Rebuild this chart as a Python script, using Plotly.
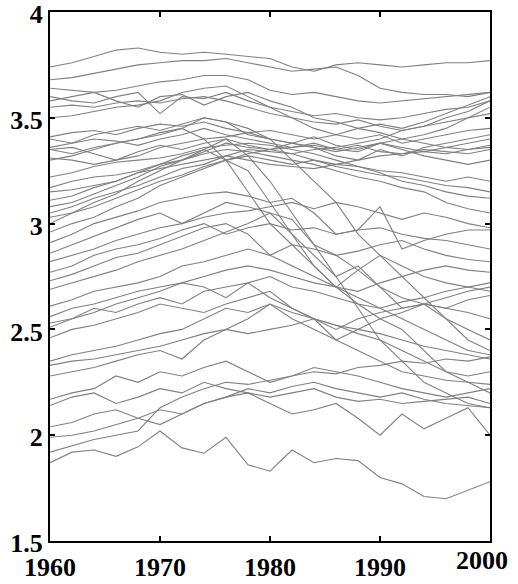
import plotly.graph_objects as go

years = list(range(1960, 2001, 2))

s01 = [3.74, 3.76, 3.79, 3.82, 3.83, 3.81, 3.80, 3.81, 3.80, 3.79, 3.78, 3.74, 3.72, 3.75, 3.76, 3.75, 3.74, 3.75, 3.76, 3.76, 3.77]
s02 = [3.68, 3.69, 3.71, 3.73, 3.75, 3.76, 3.77, 3.77, 3.78, 3.76, 3.74, 3.72, 3.73, 3.74, 3.70, 3.64, 3.62, 3.61, 3.61, 3.60, 3.62]
s03 = [3.64, 3.63, 3.62, 3.63, 3.65, 3.67, 3.68, 3.70, 3.70, 3.68, 3.63, 3.61, 3.62, 3.60, 3.58, 3.57, 3.58, 3.59, 3.60, 3.61, 3.62]
s04 = [3.60, 3.58, 3.57, 3.60, 3.62, 3.52, 3.60, 3.59, 3.62, 3.58, 3.55, 3.53, 3.51, 3.52, 3.50, 3.49, 3.50, 3.52, 3.54, 3.55, 3.58]
s05 = [3.58, 3.60, 3.62, 3.58, 3.55, 3.60, 3.61, 3.56, 3.60, 3.62, 3.58, 3.55, 3.50, 3.48, 3.45, 3.47, 3.45, 3.48, 3.52, 3.56, 3.60]
s06 = [3.55, 3.56, 3.55, 3.57, 3.58, 3.57, 3.59, 3.60, 3.58, 3.55, 3.52, 3.50, 3.48, 3.47, 3.49, 3.46, 3.44, 3.46, 3.48, 3.50, 3.52]
s07 = [3.50, 3.51, 3.53, 3.55, 3.56, 3.58, 3.62, 3.64, 3.65, 3.60, 3.55, 3.50, 3.45, 3.42, 3.40, 3.42, 3.38, 3.40, 3.42, 3.44, 3.45]
s08 = [3.41, 3.43, 3.44, 3.42, 3.45, 3.47, 3.46, 3.48, 3.45, 3.43, 3.44, 3.42, 3.40, 3.42, 3.45, 3.43, 3.40, 3.38, 3.36, 3.35, 3.37]
s09 = [3.40, 3.38, 3.42, 3.44, 3.46, 3.44, 3.47, 3.50, 3.48, 3.42, 3.40, 3.38, 3.41, 3.37, 3.35, 3.38, 3.36, 3.34, 3.33, 3.35, 3.36]
s10 = [3.36, 3.38, 3.40, 3.39, 3.37, 3.40, 3.42, 3.45, 3.42, 3.40, 3.38, 3.36, 3.38, 3.35, 3.37, 3.34, 3.33, 3.35, 3.34, 3.33, 3.35]
s11 = [3.35, 3.36, 3.33, 3.30, 3.32, 3.36, 3.38, 3.40, 3.41, 3.43, 3.40, 3.38, 3.36, 3.34, 3.36, 3.38, 3.35, 3.32, 3.30, 3.28, 3.30]
s12 = [3.31, 3.30, 3.28, 3.30, 3.34, 3.37, 3.35, 3.38, 3.40, 3.37, 3.35, 3.33, 3.30, 3.28, 3.27, 3.25, 3.24, 3.22, 3.20, 3.22, 3.20]
s13 = [3.22, 3.24, 3.27, 3.29, 3.30, 3.31, 3.33, 3.36, 3.37, 3.38, 3.37, 3.35, 3.33, 3.30, 3.27, 3.24, 3.20, 3.18, 3.15, 3.13, 3.12]
s14 = [3.17, 3.20, 3.22, 3.23, 3.25, 3.28, 3.30, 3.33, 3.35, 3.34, 3.32, 3.30, 3.28, 3.25, 3.22, 3.20, 3.17, 3.15, 3.10, 3.07, 3.05]
s15 = [3.15, 3.16, 3.18, 3.20, 3.24, 3.26, 3.28, 3.30, 3.32, 3.30, 3.28, 3.27, 3.26, 3.28, 3.30, 3.32, 3.33, 3.34, 3.36, 3.38, 3.40]
s16 = [3.11, 3.13, 3.17, 3.20, 3.24, 3.28, 3.32, 3.35, 3.30, 3.25, 3.10, 2.95, 2.80, 2.70, 2.65, 2.60, 2.55, 2.50, 2.45, 2.40, 2.38]
s17 = [3.08, 3.10, 3.14, 3.18, 3.22, 3.27, 3.30, 3.34, 3.38, 3.36, 3.35, 3.36, 3.37, 3.35, 3.34, 3.38, 3.40, 3.42, 3.45, 3.50, 3.55]
s18 = [3.05, 3.08, 3.12, 3.15, 3.18, 3.22, 3.26, 3.28, 3.32, 3.35, 3.34, 3.33, 3.35, 3.36, 3.38, 3.40, 3.44, 3.46, 3.50, 3.53, 3.58]
s19 = [3.03, 3.05, 3.10, 3.14, 3.20, 3.25, 3.30, 3.35, 3.40, 3.32, 3.20, 3.05, 2.90, 2.75, 2.60, 2.45, 2.35, 2.25, 2.20, 2.15, 2.13]
s20 = [3.00, 3.05, 3.08, 3.12, 3.16, 3.20, 3.23, 3.27, 3.30, 3.32, 3.30, 3.28, 3.30, 3.27, 3.25, 3.23, 3.22, 3.20, 3.18, 3.17, 3.15]
s21 = [2.96, 3.00, 3.03, 3.08, 3.12, 3.18, 3.22, 3.26, 3.30, 3.33, 3.35, 3.38, 3.36, 3.32, 3.30, 3.35, 3.32, 3.36, 3.38, 3.40, 3.42]
s22 = [2.91, 2.95, 3.00, 3.03, 3.06, 3.10, 3.12, 3.14, 3.15, 3.13, 3.10, 3.12, 3.05, 2.95, 2.97, 3.08, 2.88, 2.92, 2.95, 2.97, 2.97]
s23 = [2.86, 2.90, 2.94, 2.98, 3.02, 3.05, 3.00, 3.05, 3.10, 3.08, 3.05, 2.95, 2.85, 2.75, 2.80, 2.70, 2.60, 2.62, 2.55, 2.50, 2.45]
s24 = [2.82, 2.85, 2.88, 2.92, 2.95, 2.98, 3.00, 3.03, 3.05, 3.06, 3.08, 3.10, 3.07, 3.10, 3.08, 3.05, 3.02, 3.05, 3.03, 3.00, 2.98]
s25 = [2.77, 2.80, 2.85, 2.88, 2.90, 2.93, 2.97, 3.00, 2.95, 2.98, 3.00, 2.97, 2.98, 2.95, 2.97, 2.98, 2.95, 2.93, 2.92, 2.90, 2.88]
s26 = [2.73, 2.76, 2.80, 2.84, 2.86, 2.90, 2.94, 2.98, 3.00, 2.95, 2.85, 2.80, 2.75, 2.70, 2.78, 2.85, 2.80, 2.75, 2.72, 2.70, 2.72]
s27 = [2.69, 2.72, 2.75, 2.78, 2.82, 2.85, 2.88, 2.92, 2.96, 3.00, 3.05, 3.02, 2.90, 2.85, 2.78, 2.70, 2.65, 2.62, 2.60, 2.58, 2.55]
s28 = [2.61, 2.64, 2.68, 2.70, 2.72, 2.75, 2.80, 2.82, 2.85, 2.88, 2.85, 2.90, 2.88, 2.85, 2.87, 2.90, 2.92, 2.88, 2.85, 2.83, 2.82]
s29 = [2.56, 2.60, 2.62, 2.65, 2.68, 2.70, 2.72, 2.75, 2.78, 2.80, 2.78, 2.75, 2.72, 2.70, 2.68, 2.72, 2.75, 2.78, 2.80, 2.78, 2.77]
s30 = [2.53, 2.55, 2.58, 2.62, 2.65, 2.68, 2.72, 2.70, 2.65, 2.72, 2.75, 2.70, 2.68, 2.65, 2.62, 2.60, 2.63, 2.65, 2.68, 2.70, 2.68]
s31 = [2.51, 2.55, 2.60, 2.58, 2.62, 2.65, 2.62, 2.68, 2.70, 2.72, 2.65, 2.60, 2.55, 2.50, 2.55, 2.58, 2.60, 2.62, 2.65, 2.68, 2.70]
s32 = [2.46, 2.50, 2.52, 2.55, 2.58, 2.62, 2.60, 2.58, 2.62, 2.65, 2.68, 2.60, 2.55, 2.45, 2.50, 2.55, 2.58, 2.62, 2.60, 2.64, 2.66]
s33 = [2.35, 2.38, 2.40, 2.42, 2.45, 2.48, 2.50, 2.55, 2.60, 2.58, 2.62, 2.55, 2.50, 2.45, 2.40, 2.35, 2.30, 2.28, 2.26, 2.25, 2.24]
s34 = [2.33, 2.35, 2.36, 2.38, 2.40, 2.42, 2.45, 2.48, 2.50, 2.48, 2.50, 2.52, 2.55, 2.52, 2.50, 2.48, 2.45, 2.42, 2.40, 2.38, 2.36]
s35 = [2.28, 2.30, 2.32, 2.35, 2.38, 2.40, 2.36, 2.45, 2.50, 2.55, 2.62, 2.58, 2.55, 2.52, 2.48, 2.45, 2.40, 2.35, 2.30, 2.28, 2.30]
s36 = [2.17, 2.20, 2.22, 2.28, 2.25, 2.30, 2.28, 2.32, 2.35, 2.30, 2.25, 2.28, 2.32, 2.30, 2.28, 2.25, 2.22, 2.20, 2.18, 2.20, 2.22]
s37 = [2.14, 2.18, 2.20, 2.15, 2.18, 2.22, 2.20, 2.25, 2.22, 2.20, 2.15, 2.10, 2.12, 2.15, 2.08, 2.00, 2.10, 2.03, 2.08, 2.13, 2.00]
s38 = [2.04, 2.06, 2.10, 2.12, 2.08, 2.05, 2.10, 2.15, 2.18, 2.22, 2.20, 2.23, 2.25, 2.22, 2.20, 2.18, 2.20, 2.17, 2.15, 2.14, 2.13]
s39 = [1.99, 2.00, 2.02, 2.05, 2.08, 2.12, 2.10, 2.15, 2.18, 2.20, 2.18, 2.20, 2.22, 2.18, 2.16, 2.17, 2.15, 2.16, 2.17, 2.18, 2.15]
s40 = [1.92, 1.95, 1.98, 2.00, 2.02, 2.13, 2.18, 2.22, 2.25, 2.24, 2.26, 2.28, 2.30, 2.29, 2.32, 2.33, 2.35, 2.34, 2.36, 2.35, 2.37]
s41 = [1.87, 1.92, 1.93, 1.90, 1.945, 2.02, 1.94, 1.915, 1.99, 1.86, 1.83, 1.93, 1.87, 1.89, 1.88, 1.80, 1.77, 1.71, 1.70, 1.74, 1.78]
s42 = [3.30, 3.32, 3.35, 3.38, 3.40, 3.42, 3.45, 3.40, 3.30, 3.15, 3.00, 2.90, 2.80, 2.70, 2.62, 2.55, 2.50, 2.40, 2.30, 2.25, 2.20]
s43 = [3.35, 3.33, 3.36, 3.38, 3.40, 3.43, 3.45, 3.50, 3.48, 3.45, 3.40, 3.30, 3.20, 3.10, 2.95, 2.85, 2.75, 2.65, 2.55, 2.45, 2.40]

series = [s01, s02, s03, s04, s05, s06, s07, s08, s09, s10, s11, s12, s13, s14, s15,
          s16, s17, s18, s19, s20, s21, s22, s23, s24, s25, s26, s27, s28, s29, s30,
          s31, s32, s33, s34, s35, s36, s37, s38, s39, s40, s41, s42, s43]

x_ticks = [1960, 1970, 1980, 1990, 2000]
x_labels = ["1960", "1970", "1980", "1990", ""]
y_ticks = [1.5, 2, 2.5, 3, 3.5, 4]
y_labels = ["1.5", "2", "2.5", "3", "3.5", "4"]

fig = go.Figure()
for s in series:
    fig.add_trace(go.Scatter(x=years, y=s, mode="lines",
                             line=dict(color="#808080", width=1.1),
                             showlegend=False, hoverinfo="skip"))

font = dict(family="Liberation Serif", size=26, color="black", weight="bold")
axis_common = dict(showgrid=False, zeroline=False, showline=True, linecolor="black",
                   linewidth=2, mirror="ticks", ticks="inside", ticklen=5,
                   tickwidth=1.5, tickcolor="black", tickfont=font, automargin=False,
                   ticklabeloverflow="allow")

fig.update_layout(
    width=518, height=584, autosize=False,
    margin=dict(l=50, r=28, t=12, b=43),
    paper_bgcolor="white", plot_bgcolor="white",
    xaxis=dict(range=[1960, 2000], tickvals=x_ticks, ticktext=x_labels,
               ticklabelstandoff=2, **axis_common),
    yaxis=dict(range=[1.5, 4], tickvals=y_ticks, ticktext=y_labels,
               ticklabelshift=2, **axis_common),
    annotations=[dict(text="2000", x=1, xref="paper", y=0, yref="paper",
                      xanchor="right", yanchor="top", xshift=20, yshift=-3,
                      showarrow=False, font=font)],
)

fig.write_html("out.html", config={"displayModeBar": False},
               post_script="document.body.style.margin='0';document.body.style.overflow='hidden';")
